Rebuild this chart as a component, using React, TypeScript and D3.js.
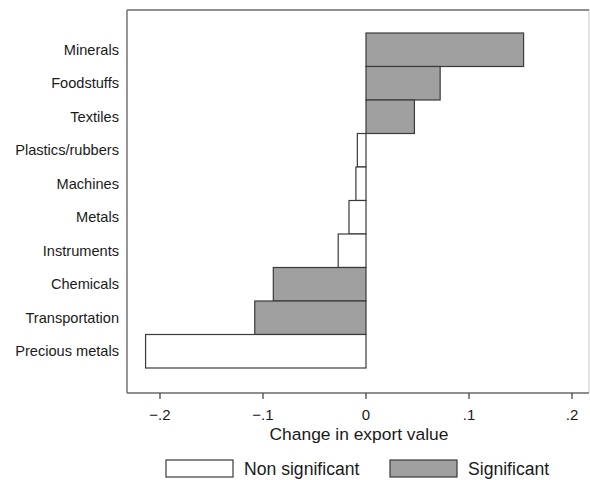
import { useEffect, useRef } from 'react';
import * as d3 from 'd3';

const categories = [
  'Minerals',
  'Foodstuffs',
  'Textiles',
  'Plastics/rubbers',
  'Machines',
  'Metals',
  'Instruments',
  'Chemicals',
  'Transportation',
  'Precious metals',
];
const values = [0.153, 0.072, 0.047, -0.0084, -0.0098, -0.0165, -0.027, -0.09, -0.108, -0.214];
const significant = [true, true, true, false, false, false, false, true, true, false];
const xTicks = [-0.2, -0.1, 0, 0.1, 0.2];
const legendItems = [
  { label: 'Non significant', sig: false },
  { label: 'Significant', sig: true },
];

const width = 590;
const height = 480;
const font = 'Liberation Sans, Arial, sans-serif';

export default function App() {
  const svgRef = useRef<SVGSVGElement>(null);

  useEffect(() => {
    if (!svgRef.current) return;
    const svg = d3.select(svgRef.current);
    svg.selectAll('*').remove();

    const plot = { left: 127, top: 10, right: 589, bottom: 393 };

    const x = d3.scaleLinear().domain([-0.2, 0.2]).range([160, 572]);
    const y = d3.scaleBand<string>()
      .domain(categories)
      .range([33, 368])
      .padding(0);

    svg.append('rect')
      .attr('width', width)
      .attr('height', height)
      .attr('fill', '#ffffff');

    // plot region frame: light right edge, darker others
    svg.append('line')
      .attr('x1', plot.right).attr('x2', plot.right)
      .attr('y1', plot.top).attr('y2', plot.bottom)
      .attr('stroke', '#c8c8c8').attr('stroke-width', 1);
    svg.append('line')
      .attr('x1', plot.left).attr('x2', plot.right)
      .attr('y1', plot.top).attr('y2', plot.top)
      .attr('stroke', '#6a6a6a').attr('stroke-width', 1.4);
    svg.append('line')
      .attr('x1', plot.left).attr('x2', plot.left)
      .attr('y1', plot.top).attr('y2', plot.bottom)
      .attr('stroke', '#6a6a6a').attr('stroke-width', 1.4);

    // bars
    svg.append('g')
      .selectAll('rect')
      .data(categories)
      .join('rect')
      .attr('x', (_, i) => Math.min(x(0), x(values[i])))
      .attr('y', d => y(d)!)
      .attr('width', (_, i) => Math.abs(x(values[i]) - x(0)))
      .attr('height', y.bandwidth())
      .attr('fill', (_, i) => (significant[i] ? '#a0a0a0' : '#ffffff'))
      .attr('stroke', '#3a3a3a')
      .attr('stroke-width', 1.2);

    // category labels
    svg.append('g')
      .selectAll('text')
      .data(categories)
      .join('text')
      .attr('x', 119)
      .attr('y', d => y(d)! + y.bandwidth() / 2)
      .attr('dy', '0.35em')
      .attr('text-anchor', 'end')
      .attr('font-family', font)
      .attr('font-size', 14.6)
      .attr('fill', '#1a1a1a')
      .text(d => d);

    // x axis
    const axis = svg.append('g')
      .attr('transform', `translate(0,${plot.bottom})`);
    axis.append('line')
      .attr('x1', plot.left).attr('x2', plot.right)
      .attr('y1', 0).attr('y2', 0)
      .attr('stroke', '#6a6a6a').attr('stroke-width', 1.4);
    const ticks = axis.selectAll('g.tick')
      .data(xTicks)
      .join('g')
      .attr('class', 'tick')
      .attr('transform', d => `translate(${x(d)},0)`);
    ticks.append('line')
      .attr('y1', 0).attr('y2', 6)
      .attr('stroke', '#3a3a3a').attr('stroke-width', 1.2);
    ticks.append('text')
      .attr('y', 27)
      .attr('text-anchor', 'middle')
      .attr('font-family', font)
      .attr('font-size', 15)
      .attr('fill', '#1a1a1a')
      .text(d => (d === 0 ? '0' : d3.format('.1f')(d).replace('0.', '.')));

    svg.append('text')
      .attr('x', x(0) - 7)
      .attr('y', 440)
      .attr('text-anchor', 'middle')
      .attr('font-family', font)
      .attr('font-size', 17.4)
      .attr('fill', '#1a1a1a')
      .text('Change in export value');

    // legend
    const legend = svg.append('g');
    const lx = [166, 390];
    legendItems.forEach((item, i) => {
      legend.append('rect')
        .attr('x', lx[i])
        .attr('y', 460)
        .attr('width', 67)
        .attr('height', 17)
        .attr('fill', item.sig ? '#a0a0a0' : '#ffffff')
        .attr('stroke', '#3a3a3a')
        .attr('stroke-width', 1.2);
      legend.append('text')
        .attr('x', lx[i] + 78)
        .attr('y', 469)
        .attr('dy', '0.35em')
        .attr('font-family', font)
        .attr('font-size', 17.6)
        .attr('fill', '#1a1a1a')
        .text(item.label);
    });
  }, []);

  return (
    <div style={{ position: 'absolute', left: 0, top: 0 }}>
      <svg ref={svgRef} width={width} height={height} />
    </div>
  );
}
